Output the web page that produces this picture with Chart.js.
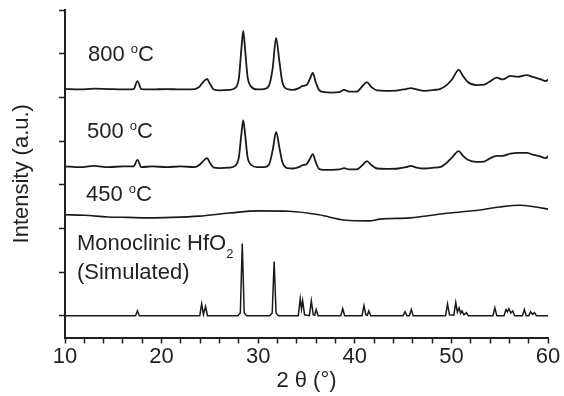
<!DOCTYPE html>
<html>
<head>
<meta charset="utf-8">
<script src="https://cdn.jsdelivr.net/npm/chart.js@4.4.1/dist/chart.umd.min.js"></script>
<style>
  html, body { margin: 0; padding: 0; background: #fff; }
</style>
</head>
<body>
<canvas id="xrdChart" width="564" height="396"></canvas>
<script>
// Patrones de DRX (las curvas ya vienen desplazadas en vertical)
const theta800 = [10.0, 11.5, 13.0, 14.5, 16.0, 17.1, 17.5, 17.9, 19.0, 20.5, 22.0, 23.4, 23.9, 24.3, 24.7, 25.0, 25.4, 26.0, 27.0, 27.6,
  28.0, 28.25, 28.45, 28.65, 28.9, 29.3, 29.9, 30.6, 31.1, 31.5, 31.85, 32.2, 32.5, 33.0, 33.6, 34.2, 34.6, 35.0, 35.35, 35.65,
  35.95, 36.3, 36.8, 37.6, 38.4, 38.9, 39.4, 40.2, 40.8, 41.25, 41.7, 42.3, 43.2, 44.5, 45.3, 45.8, 46.4, 47.2, 48.2, 48.8,
  49.5, 50.1, 50.75, 51.2, 51.7, 52.6, 53.4, 53.9, 54.7, 55.3, 56.1, 56.9, 57.8, 58.4, 59.0, 59.5, 59.8, 60.0];
const int800 = [5.19, 5.18, 5.20, 5.19, 5.18, 5.19, 5.37, 5.19, 5.18, 5.19, 5.18, 5.19, 5.24, 5.35, 5.42, 5.31, 5.18, 5.16, 5.17, 5.21,
  5.44, 6.08, 6.52, 6.08, 5.47, 5.24, 5.18, 5.19, 5.26, 5.67, 6.36, 5.81, 5.35, 5.19, 5.17, 5.21, 5.26, 5.28, 5.42, 5.56,
  5.35, 5.17, 5.12, 5.11, 5.12, 5.17, 5.13, 5.13, 5.26, 5.35, 5.24, 5.16, 5.15, 5.16, 5.19, 5.21, 5.18, 5.15, 5.17, 5.19,
  5.28, 5.42, 5.63, 5.49, 5.35, 5.28, 5.29, 5.35, 5.45, 5.41, 5.49, 5.47, 5.51, 5.47, 5.43, 5.39, 5.37, 5.41];

const theta500 = theta800;
const int500 = [3.42, 3.40, 3.43, 3.40, 3.42, 3.42, 3.57, 3.40, 3.42, 3.40, 3.42, 3.40, 3.45, 3.54, 3.61, 3.50, 3.39, 3.38, 3.39, 3.43,
  3.63, 4.14, 4.48, 4.14, 3.63, 3.45, 3.40, 3.40, 3.45, 3.79, 4.21, 3.84, 3.52, 3.38, 3.37, 3.40, 3.45, 3.47, 3.59, 3.70,
  3.52, 3.36, 3.34, 3.34, 3.35, 3.38, 3.35, 3.35, 3.45, 3.54, 3.45, 3.37, 3.36, 3.37, 3.40, 3.43, 3.39, 3.37, 3.39, 3.40,
  3.50, 3.63, 3.77, 3.66, 3.57, 3.52, 3.53, 3.59, 3.66, 3.66, 3.71, 3.73, 3.73, 3.69, 3.66, 3.62, 3.61, 3.66];

const theta450 = [10, 12, 14.4, 16.5, 18.7, 21, 23.9, 27, 30.1, 33.2, 36.3, 38.9, 41.5, 42.6, 45.7, 49.8, 52.9, 55, 57.1, 58.7, 60];
const int450 = [2.31, 2.30, 2.26, 2.25, 2.24, 2.25, 2.28, 2.35, 2.40, 2.39, 2.31, 2.19, 2.17, 2.21, 2.24, 2.35, 2.42, 2.49, 2.53, 2.49, 2.44];

// Patrón simulado del HfO2 monoclínico (picos estrechos)
const thetaSim = [10, 17.3, 17.5, 17.7, 23.95, 24.15, 24.33, 24.55, 24.75, 27.9, 28.15, 28.35, 28.55, 28.8,
  31.2, 31.45, 31.65, 31.85, 32.1, 34.15, 34.35, 34.48, 34.6, 34.8, 35.3, 35.5, 35.7, 35.85, 36.0, 36.2,
  38.55, 38.75, 38.95, 40.75, 40.95, 41.15, 41.3, 41.45, 41.65, 45.0, 45.2, 45.4, 45.65, 45.85, 46.05,
  49.4, 49.6, 49.8, 50.25, 50.45, 50.62, 50.8, 50.95, 51.1, 51.3, 51.55, 51.75, 54.3, 54.5, 54.7,
  55.45, 55.65, 55.8, 55.95, 56.15, 56.35, 56.55, 57.35, 57.55, 57.75, 58.0, 58.2, 58.4, 58.6, 58.8, 60];
const intSim = [0, 0, 0.11, 0, 0, 0.27, 0.03, 0.21, 0, 0, 0.06, 1.65, 0.06, 0,
  0, 0.06, 1.24, 0.06, 0, 0, 0.39, 0.15, 0.34, 0.02, 0, 0.34, 0.02, 0.01, 0.14, 0,
  0, 0.16, 0, 0, 0.23, 0.02, 0.01, 0.11, 0, 0, 0.09, 0, 0, 0.14, 0,
  0, 0.27, 0.02, 0.01, 0.30, 0.08, 0.18, 0.05, 0.11, 0.02, 0.07, 0, 0, 0.18, 0,
  0, 0.14, 0.09, 0.16, 0.06, 0.11, 0, 0, 0.14, 0, 0, 0.09, 0.03, 0.07, 0, 0];

const ink = '#231f20';
const fontFamily = '"Liberation Sans", Arial, sans-serif';

// Etiquetas dentro del gráfico (posición en unidades de datos)
const notes = [
  { x: 12.38, y: 5.83, parts: [{ t: '800 ' }, { t: 'o', sup: true }, { t: 'C' }] },
  { x: 12.28, y: 4.07, parts: [{ t: '500 ' }, { t: 'o', sup: true }, { t: 'C' }] },
  { x: 12.17, y: 2.63, parts: [{ t: '450 ' }, { t: 'o', sup: true }, { t: 'C' }] },
  { x: 11.24, y: 1.50, parts: [{ t: 'Monoclinic HfO' }, { t: '2', sub: true }] },
  { x: 11.24, y: 0.84, parts: [{ t: '(Simulated)' }] }
];

function toPoints(xs, ys) {
  return xs.map((x, i) => ({ x: x, y: ys[i] }));
}

const textLabels = {
  id: 'textLabels',
  afterDatasetsDraw(chart) {
    const { ctx, scales: { x, y } } = chart;
    ctx.save();
    ctx.fillStyle = ink;
    ctx.textBaseline = 'alphabetic';
    ctx.textAlign = 'left';
    notes.forEach(n => {
      let px = x.getPixelForValue(n.x);
      const py = y.getPixelForValue(n.y);
      n.parts.forEach(p => {
        const small = p.sup || p.sub;
        ctx.font = (small ? '13px ' : '22px ') + fontFamily;
        const dy = p.sup ? -8 : (p.sub ? 8 : 0);
        ctx.fillText(p.t, px, py + dy);
        px += ctx.measureText(p.t).width;
      });
    });
    ctx.restore();
  }
};

function curve(data, width, smooth) {
  return {
    data: data,
    borderColor: '#1a1a1a',
    borderWidth: width,
    pointRadius: 0,
    fill: false,
    tension: 0,
    cubicInterpolationMode: smooth ? 'monotone' : 'default'
  };
}

const ctx = document.getElementById('xrdChart').getContext('2d');
new Chart(ctx, {
  type: 'line',
  data: {
    datasets: [
      curve(toPoints(theta800, int800), 1.8, true),
      curve(toPoints(theta500, int500), 1.8, true),
      curve(toPoints(theta450, int450), 1.6, true),
      curve(toPoints(thetaSim, intSim), 1.5, false)
    ]
  },
  options: {
    responsive: false,
    animation: false,
    events: [],
    layout: { padding: { top: 10, right: 16, left: 0, bottom: 0 } },
    plugins: { legend: { display: false }, tooltip: { enabled: false } },
    scales: {
      x: {
        type: 'linear',
        min: 10,
        max: 60,
        ticks: {
          stepSize: 2,
          autoSkip: false,
          maxRotation: 0,
          padding: 0,
          color: ink,
          font: { family: fontFamily, size: 22 },
          callback: v => (v % 10 === 0 ? v : '')
        },
        grid: { drawOnChartArea: false, tickLength: 6, tickWidth: 1.5, color: ink },
        border: { display: true, color: ink, width: 2 },
        title: {
          display: true,
          text: '2 θ (°)',
          color: ink,
          font: { family: fontFamily, size: 22 },
          padding: { top: 0, bottom: 2 }
        },
        afterFit: scale => { scale.height = 58.5; }
      },
      y: {
        type: 'linear',
        min: -0.5,
        max: 7,
        ticks: { stepSize: 1, display: false, includeBounds: false },
        grid: { drawOnChartArea: false, tickLength: 6, tickWidth: 1.5, color: ink },
        border: { display: true, color: ink, width: 2 },
        title: {
          display: true,
          text: 'Intensity (a.u.)',
          color: ink,
          font: { family: fontFamily, size: 22 },
          padding: { top: 9, bottom: 0 }
        },
        afterFit: scale => { scale.width = 65; }
      }
    }
  },
  plugins: [textLabels]
});
</script>
</body>
</html>
